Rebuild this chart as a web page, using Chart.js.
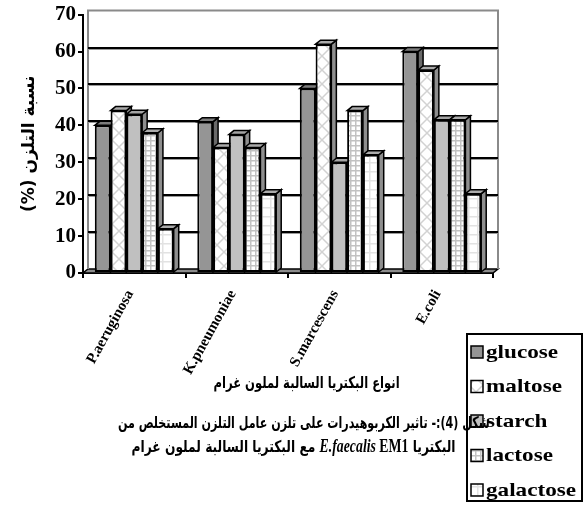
<!DOCTYPE html>
<html>
<head>
<meta charset="utf-8">
<script src="https://cdn.jsdelivr.net/npm/chart.js@4/dist/chart.umd.min.js"></script>
<style>
  html, body { margin: 0; padding: 0; background: #fff; }
  #wrap { position: relative; width: 584px; height: 507px; overflow: hidden; }
  #c { position: absolute; left: 0; top: 0; }
  .txt {
    position: absolute; white-space: nowrap; color: #000;
    font-family: "DejaVu Sans", sans-serif; font-weight: bold;
    direction: rtl; line-height: 1.15; transform-origin: center center;
  }
  .lat { font-family: "Liberation Serif", "Times New Roman", serif; font-weight: bold; }
</style>
</head>
<body>
<div id="wrap">
  <canvas id="c" width="584" height="507" dir="rtl"></canvas>
  <div class="txt" id="xtitle" style="font-size:16px" data-cx="306" data-cy="383" data-w="186">انواع البكتريا السالبة لملون غرام</div>
  <div class="txt" id="cap1" style="font-size:16px" data-cx="304" data-cy="423" data-w="372">شكل (4):- تاثير الكربوهيدرات على تلزن عامل التلزن المستخلص من</div>
  <div class="txt" id="cap2" style="font-size:16px" data-cx="293" data-cy="446" data-w="324">البكتريا <span class="lat" style="font-size:18px"><i>E.faecalis</i> EM1</span> مع البكتريا السالبة لملون غرام</div>
</div>
<script>
// Bacteria (x categories) and carbohydrate series (adhesion %)
const categories = ['P.aeruginosa', 'K.pneumoniae', 'S.marcescens', 'E.coli'];
const seriesNames = ['glucose', 'maltose', 'starch', 'lactose', 'galactose'];
const glucose   = [40, 41, 50, 60];
const maltose   = [44, 34, 62, 55];
const starch    = [43, 37.5, 30, 41.5];
const lactose   = [38, 34, 44, 41.5];
const galactose = [12, 21.5, 32, 21.5];
const yTicks = [0, 10, 20, 30, 40, 50, 60, 70];

const seriesValues = [glucose, maltose, starch, lactose, galactose];

// depth of the pseudo-3D extrusion
const DX = 5, DY = 4;

function makePattern(kind) {
  const size = kind === 'lattice' ? 14 : (kind === 'grid' ? 5 : 9);
  const c = document.createElement('canvas');
  c.width = c.height = size;
  const g = c.getContext('2d');
  g.fillStyle = '#ffffff';
  g.fillRect(0, 0, size, size);
  g.lineWidth = 1.5;
  if (kind === 'lattice') {
    g.strokeStyle = '#d2d2d2';
    g.beginPath();
    g.moveTo(0, size); g.lineTo(size, 0);
    g.moveTo(0, 0); g.lineTo(size, size);
    g.stroke();
  } else {
    g.strokeStyle = kind === 'grid' ? '#c2c2c2' : '#e2e2e2';
    g.beginPath();
    g.moveTo(0, 0.75); g.lineTo(size, 0.75);
    g.moveTo(0.75, 0); g.lineTo(0.75, size);
    g.stroke();
  }
  return document.createElement('canvas').getContext('2d').createPattern(c, 'repeat');
}

const fills = ['#959595', makePattern('lattice'), '#c0c0c0', makePattern('grid'), makePattern('faint')];
const sideFills = ['#6a6a6a', '#8e8e8e', '#8e8e8e', '#8e8e8e', '#8e8e8e'];
const topFills  = ['#7c7c7c', '#ababab', '#a4a4a4', '#ababab', '#ababab'];

const threeD = {
  id: 'threeD',
  beforeDatasetsDraw(chart) {
    const { ctx, chartArea: { left, right, top, bottom }, scales: { y } } = chart;
    ctx.save();
    ctx.direction = 'ltr';
    // floor
    ctx.fillStyle = '#8c8c8c';
    ctx.beginPath();
    ctx.moveTo(left, bottom); ctx.lineTo(right, bottom);
    ctx.lineTo(right + DX, bottom - DY); ctx.lineTo(left + DX, bottom - DY);
    ctx.closePath(); ctx.fill();
    ctx.strokeStyle = '#000'; ctx.lineWidth = 1.5; ctx.stroke();
    // back wall frame
    ctx.strokeStyle = '#8a8a8a'; ctx.lineWidth = 2;
    ctx.beginPath();
    ctx.moveTo(left + DX, bottom - DY);
    ctx.lineTo(left + DX, top - DY);
    ctx.lineTo(right + DX, top - DY);
    ctx.lineTo(right + DX, bottom - DY);
    ctx.stroke();
    // back wall gridlines
    yTicks.forEach(v => {
      if (v === 0 || v === yTicks[yTicks.length - 1]) return;
      const py = Math.round(y.getPixelForValue(v) - DY);
      ctx.strokeStyle = '#9a9a9a'; ctx.lineWidth = 1;
      ctx.beginPath(); ctx.moveTo(left + DX, py + 1.5); ctx.lineTo(right + DX, py + 1.5); ctx.stroke();
      ctx.strokeStyle = '#000'; ctx.lineWidth = 2;
      ctx.beginPath(); ctx.moveTo(left + DX, py); ctx.lineTo(right + DX, py); ctx.stroke();
    });
    // side and top faces of each bar
    ctx.lineWidth = 1.5; ctx.strokeStyle = '#000'; ctx.lineJoin = 'miter';
    for (let i = 0; i < categories.length; i++) {
      chart.data.datasets.forEach((ds, d) => {
        const el = chart.getDatasetMeta(d).data[i];
        const { x, y: ty, base, width } = el.getProps(['x', 'y', 'base', 'width'], true);
        const xl = x - width / 2, xr = x + width / 2;
        ctx.fillStyle = sideFills[d];
        ctx.beginPath();
        ctx.moveTo(xr, ty); ctx.lineTo(xr + DX, ty - DY);
        ctx.lineTo(xr + DX, base - DY); ctx.lineTo(xr, base);
        ctx.closePath(); ctx.fill(); ctx.stroke();
        ctx.fillStyle = topFills[d];
        ctx.beginPath();
        ctx.moveTo(xl, ty); ctx.lineTo(xl + DX, ty - DY);
        ctx.lineTo(xr + DX, ty - DY); ctx.lineTo(xr, ty);
        ctx.closePath(); ctx.fill(); ctx.stroke();
      });
    }
    ctx.restore();
  }
};

const boxLegend = {
  id: 'boxLegend',
  afterDraw(chart) {
    const { ctx } = chart;
    const bx = 467, by = 334, bw = 115, bh = 167;
    ctx.save();
    ctx.direction = 'ltr';
    ctx.fillStyle = '#fff';
    ctx.fillRect(bx, by, bw, bh);
    ctx.strokeStyle = '#000'; ctx.lineWidth = 2;
    ctx.strokeRect(bx, by, bw, bh);
    chart.data.datasets.forEach((ds, d) => {
      const cy = 352 + d * 34.5;
      ctx.fillStyle = ds.backgroundColor;
      ctx.fillRect(471, cy - 6, 12, 12);
      ctx.lineWidth = 1.5; ctx.strokeStyle = '#000';
      ctx.strokeRect(471, cy - 6, 12, 12);
      ctx.save();
      ctx.translate(486, cy + 1);
      ctx.scale(1.22, 1);
      ctx.fillStyle = '#000';
      ctx.font = 'bold 19px "Liberation Serif", "Times New Roman", serif';
      ctx.textAlign = 'left'; ctx.textBaseline = 'middle';
      ctx.fillText(ds.label, 0, 0);
      ctx.restore();
    });
    ctx.restore();
  }
};

new Chart(document.getElementById('c'), {
  type: 'bar',
  data: {
    labels: categories,
    datasets: seriesNames.map((name, d) => ({
      label: name,
      data: seriesValues[d],
      backgroundColor: fills[d],
      borderColor: '#000',
      borderWidth: 2,
      borderSkipped: false,
      categoryPercentage: 0.77,
      barPercentage: 1.0
    }))
  },
  options: {
    responsive: false,
    devicePixelRatio: 1,
    animation: false,
    events: [],
    layout: { padding: { top: 11, right: 91, left: 0, bottom: 0 } },
    plugins: { legend: { display: false }, tooltip: { enabled: false }, title: { display: false } },
    scales: {
      x: {
        grid: { display: true, drawOnChartArea: false, drawTicks: true, tickLength: 5, color: '#000', lineWidth: 2, offset: true },
        border: { display: true, color: '#000', width: 2 },
        ticks: {
          color: '#000', minRotation: 61, maxRotation: 61, padding: 9, labelOffset: -4, autoSkip: false,
          font: { family: '"Liberation Serif", "Times New Roman", serif', weight: 'bold', size: 15 }
        },
        afterFit(scale) { scale.height = 507 - 273; }
      },
      y: {
        min: 0, max: 70,
        afterBuildTicks(scale) { scale.ticks = yTicks.map(v => ({ value: v })); },
        grid: { display: true, drawOnChartArea: false, drawTicks: true, tickLength: 5, color: '#000', lineWidth: 2 },
        border: { display: true, color: '#000', width: 2 },
        ticks: {
          color: '#000', padding: 2,
          font: { family: '"Liberation Serif", "Times New Roman", serif', weight: 'bold', size: 21 }
        },
        title: {
          display: true, text: 'نسبة التلزن (%)', color: '#000',
          font: { family: '"DejaVu Sans", sans-serif', weight: 'bold', size: 17 },
          padding: { top: 19, bottom: 0 }
        },
        afterFit(scale) { scale.width = 83; }
      }
    }
  },
  plugins: [threeD, boxLegend]
});

// place the HTML captions, stretching each to its line width
document.querySelectorAll('.txt').forEach(el => {
  const w = el.offsetWidth, h = el.offsetHeight;
  const cx = +el.dataset.cx, cy = +el.dataset.cy, tw = +el.dataset.w;
  el.style.left = (cx - w / 2) + 'px';
  el.style.top = (cy - h / 2) + 'px';
  el.style.transform = 'scaleX(' + (tw / w).toFixed(3) + ')';
});
</script>
</body>
</html>
